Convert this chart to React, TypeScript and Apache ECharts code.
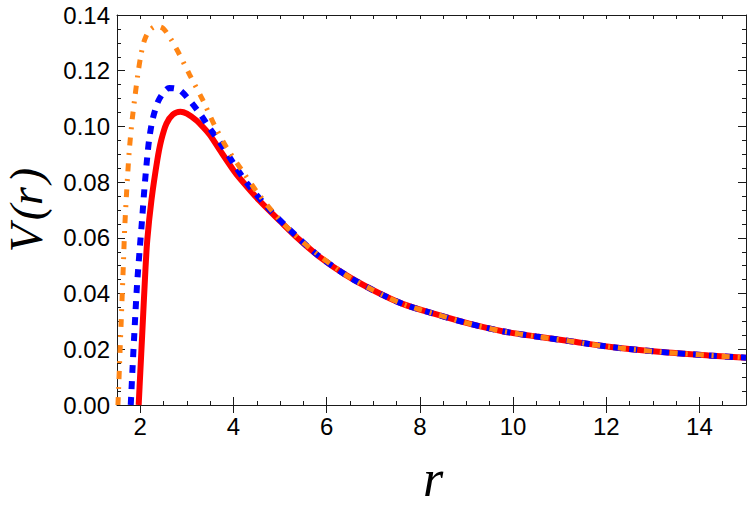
import React, { useEffect, useRef } from "react";
import * as echarts from "echarts";

// ---- data ----
const xMajorTicks = [2, 4, 6, 8, 10, 12, 14];

const rRed = [1.965, 2.0, 2.04, 2.11, 2.15, 2.24, 2.365, 2.45, 2.56, 2.7, 2.86, 3.0, 3.2, 3.35, 3.49, 3.7, 4.0, 4.13, 4.56, 5.0, 5.41, 5.84];
const vRed = [0, 0.0117, 0.025, 0.0485, 0.0592, 0.0736, 0.0879, 0.0951, 0.101, 0.1043, 0.1053, 0.1046, 0.1022, 0.0997, 0.097, 0.0917, 0.0843, 0.0815, 0.0733, 0.066, 0.0594, 0.0533];

const rBlue = [1.795, 1.83, 1.87, 1.93, 1.99, 2.04, 2.09, 2.16, 2.2, 2.27, 2.38, 2.5, 2.62, 2.75, 2.88, 3.09, 3.31, 3.49, 3.7, 4.06, 4.31, 4.74, 5.16, 5.77];
const vBlue = [0, 0.012, 0.025, 0.0431, 0.0565, 0.067, 0.078, 0.0909, 0.0965, 0.1029, 0.1089, 0.1122, 0.1138, 0.1136, 0.1126, 0.1087, 0.1039, 0.0993, 0.0945, 0.0852, 0.0792, 0.0708, 0.0637, 0.0543];

const rOrange = [1.52, 1.535, 1.555, 1.57, 1.59, 1.615, 1.64, 1.665, 1.7, 1.73, 1.77, 1.83, 1.88, 1.95, 2.02, 2.09, 2.2, 2.35, 2.49, 2.65, 2.81, 3.06, 3.34, 3.59, 3.85, 4.17, 4.49, 4.84, 5.24, 5.7];
const vOrange = [0, 0.006, 0.0148, 0.0214, 0.03, 0.041, 0.052, 0.0634, 0.0745, 0.083, 0.0927, 0.103, 0.11, 0.119, 0.1262, 0.131, 0.1345, 0.136, 0.1352, 0.1315, 0.1268, 0.1185, 0.1095, 0.1005, 0.0925, 0.0845, 0.0768, 0.0694, 0.0623, 0.0555];

// common tail where all three curves coincide
const rTail = [6.4, 7.0, 7.63, 8.34, 9.06, 9.77, 10.5, 11.2, 12.06, 13.13, 14.2, 15];
const vTail = [0.0468, 0.0412, 0.0363, 0.0326, 0.0292, 0.0265, 0.0246, 0.023, 0.0209, 0.0191, 0.0178, 0.017];

const toPairs = (rs: number[], vs: number[]) => rs.map((r, i) => [r, vs[i]]);
const withTail = (rs: number[], vs: number[]) => toPairs(rs, vs).concat(toPairs(rTail, vTail));

export default function App() {
  const ref = useRef<HTMLDivElement>(null);

  useEffect(() => {
    const chart = echarts.init(ref.current!, null, { renderer: "svg" });
    const frame = { color: "#1a1a1a", width: 1 };
    const labelFont = {
      fontFamily: "'Liberation Sans', Arial, Helvetica, sans-serif",
      fontSize: 24,
      color: "#000",
    };
    const xBase = { type: "value", min: 1.5, max: 15, splitLine: { show: false } };
    const yBase = { type: "value", min: 0, max: 0.14, interval: 0.02, splitLine: { show: false } };
    const isMajorX = (v: number) => Math.abs(v / 2 - Math.round(v / 2)) < 1e-6;
    const serif = "'Liberation Serif', 'Times New Roman', serif";

    chart.setOption({
      animation: false,
      backgroundColor: "#fff",
      grid: { left: 117, right: 4, top: 15, bottom: 100, containLabel: false },
      xAxis: [
        {
          ...xBase,
          position: "bottom",
          interval: 0.5,
          axisLine: { show: true, onZero: false, lineStyle: frame },
          axisTick: { show: true, inside: true, length: 4, lineStyle: frame },
          axisLabel: {
            ...labelFont,
            margin: 9,
            customValues: xMajorTicks,
            formatter: (v: number) => (isMajorX(v) ? String(Math.round(v)) : ""),
          },
        },
        {
          ...xBase,
          position: "bottom",
          interval: 0.5,
          axisLine: { show: false },
          axisTick: { show: true, inside: true, length: 8, lineStyle: frame, customValues: xMajorTicks },
          axisLabel: { show: false },
        },
        {
          ...xBase,
          position: "top",
          interval: 0.5,
          axisLine: { show: true, onZero: false, lineStyle: frame },
          axisTick: { show: true, inside: true, length: 4, lineStyle: frame },
          axisLabel: { show: false },
        },
        {
          ...xBase,
          position: "top",
          interval: 0.5,
          axisLine: { show: false },
          axisTick: { show: true, inside: true, length: 8, lineStyle: frame, customValues: xMajorTicks },
          axisLabel: { show: false },
        },
      ],
      yAxis: [
        {
          ...yBase,
          position: "left",
          axisLine: { show: true, onZero: false, lineStyle: frame },
          axisTick: { show: true, inside: true, length: 8, lineStyle: frame },
          minorTick: { show: true, splitNumber: 4, length: 4, lineStyle: frame },
          minorSplitLine: { show: false },
          axisLabel: { ...labelFont, margin: 7, formatter: (v: number) => v.toFixed(2) },
        },
        {
          ...yBase,
          position: "right",
          axisLine: { show: true, onZero: false, lineStyle: frame },
          axisTick: { show: true, inside: true, length: 8, lineStyle: frame },
          minorTick: { show: true, splitNumber: 4, length: 4, lineStyle: frame },
          minorSplitLine: { show: false },
          axisLabel: { show: false },
        },
      ],
      series: [
        {
          name: "red",
          type: "line",
          xAxisIndex: 0,
          yAxisIndex: 0,
          data: withTail(rRed, vRed),
          showSymbol: false,
          smooth: 0.3,
          clip: true,
          lineStyle: { color: "#ff0000", width: 6, cap: "butt" },
          z: 2,
        },
        {
          name: "blue",
          type: "line",
          xAxisIndex: 0,
          yAxisIndex: 0,
          data: withTail(rBlue, vBlue),
          showSymbol: false,
          smooth: 0.3,
          clip: true,
          lineStyle: { color: "#0000ff", width: 6, type: [8, 8], cap: "butt" },
          z: 3,
        },
        {
          name: "orange",
          type: "line",
          xAxisIndex: 0,
          yAxisIndex: 0,
          data: withTail(rOrange, vOrange),
          showSymbol: false,
          smooth: 0.3,
          clip: true,
          lineStyle: { color: "#ff8514", width: 5, type: [8, 8, 2, 8], cap: "butt" },
          z: 4,
        },
      ],
      graphic: [
        {
          type: "text",
          x: 26,
          y: 210,
          rotation: Math.PI / 2,
          style: {
            text: "V\u200A(r\u200A)",
            fontFamily: serif,
            fontStyle: "italic",
            fontSize: 46,
            lineHeight: 40,
            fill: "#000",
            align: "center",
            verticalAlign: "middle",
            textAlign: "center",
            textVerticalAlign: "middle",
          },
        },
        {
          type: "text",
          x: 433,
          y: 478,
          style: {
            text: "r",
            fontFamily: serif,
            fontStyle: "italic",
            fontSize: 52,
            lineHeight: 44,
            fill: "#000",
            align: "center",
            verticalAlign: "middle",
            textAlign: "center",
            textVerticalAlign: "middle",
          },
        },
      ],
    });

    return () => chart.dispose();
  }, []);

  return (
    <div
      ref={ref}
      style={{ position: "fixed", left: 0, top: 0, width: 750, height: 505, background: "#fff" }}
    />
  );
}
